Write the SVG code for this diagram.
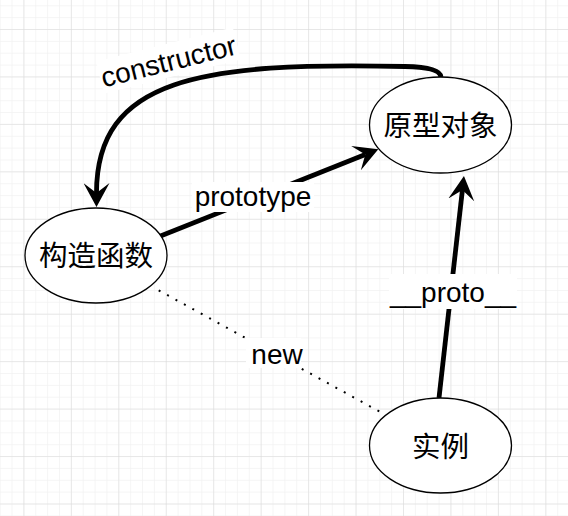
<svg xmlns="http://www.w3.org/2000/svg" width="568" height="516" viewBox="0 0 568 516">
  <style>
    .node ellipse { fill: #ffffff; stroke: #000000; stroke-width: 1.3; }
    .node text { font-family: "Liberation Sans", "Noto Sans CJK SC", sans-serif; font-size: 28.5px; fill: #000000; text-anchor: middle; }
    .edge { fill: none; stroke: #000000; stroke-width: 4.8; }
    .dotted { fill: none; stroke: #000000; stroke-width: 2; stroke-dasharray: 2 7.6; }
    .lbl { font-family: "Liberation Sans", Arial, sans-serif; font-size: 28px; fill: #000000; text-anchor: middle; }
    .lblbg { fill: #ffffff; stroke: none; }
  </style>
  <defs>
    <pattern id="minor" x="23.4" y="29" width="11.8625" height="11.8625" patternUnits="userSpaceOnUse">
      <path d="M0 0 H11.8625 M0 0 V11.8625" fill="none" stroke="#f2f2f2" stroke-width="1.5"/>
    </pattern>
    <pattern id="major" x="23.4" y="29" width="47.45" height="47.45" patternUnits="userSpaceOnUse">
      <path d="M0 0 H47.45 M0 0 V47.45" fill="none" stroke="#d9d9d9" stroke-width="1"/>
    </pattern>
    <marker id="arrow" viewBox="0 0 24 26" refX="10" refY="13" markerWidth="24" markerHeight="26" markerUnits="userSpaceOnUse" orient="auto">
      <path d="M24 13 L0 0 L10 13 L0 26 Z" fill="#000000"/>
    </marker>
  </defs>

  <rect x="0" y="0" width="568" height="516" fill="#ffffff"/>
  <rect x="0" y="0" width="568" height="516" fill="url(#minor)"/>
  <rect x="0" y="0" width="568" height="516" fill="url(#major)"/>

  <g id="connectors">
    <path class="edge" d="M441 77 Q440 67 405 66.5 C200 62 96.5 78 96.5 193" marker-end="url(#arrow)"/>
    <path class="edge" d="M158 237 L365.3 154.5" marker-end="url(#arrow)"/>
    <path class="edge" d="M439 398 L462.4 189.9" marker-end="url(#arrow)"/>
    <path class="dotted" d="M158.7 290.3 L384 414"/>

    <g id="label-constructor" transform="rotate(-14 168.5 61)">
      <rect class="lblbg" x="98" y="44" width="141" height="33"/>
      <text class="lbl" x="168.5" y="71">constructor</text>
    </g>
    <g id="label-prototype">
      <rect class="lblbg" x="192" y="182" width="122" height="30"/>
      <text class="lbl" x="253" y="206">prototype</text>
    </g>
    <g id="label-proto">
      <rect class="lblbg" x="389" y="274" width="128" height="35"/>
      <text class="lbl" x="453" y="302">__proto__</text>
    </g>
    <g id="label-new">
      <rect class="lblbg" x="246" y="338" width="55" height="30"/>
      <text class="lbl" x="277" y="364">new</text>
    </g>
  </g>

  <g id="node-prototype-object" class="node">
    <ellipse cx="440.5" cy="125" rx="71" ry="48"/>
    <text x="440.5" y="135.5">原型对象</text>
  </g>
  <g id="node-constructor" class="node">
    <ellipse cx="96" cy="255.5" rx="71" ry="47.5"/>
    <text x="96" y="265.5">构造函数</text>
  </g>
  <g id="node-instance" class="node">
    <ellipse cx="440.5" cy="445.5" rx="71" ry="47.5"/>
    <text x="440.5" y="457">实例</text>
  </g>
</svg>
